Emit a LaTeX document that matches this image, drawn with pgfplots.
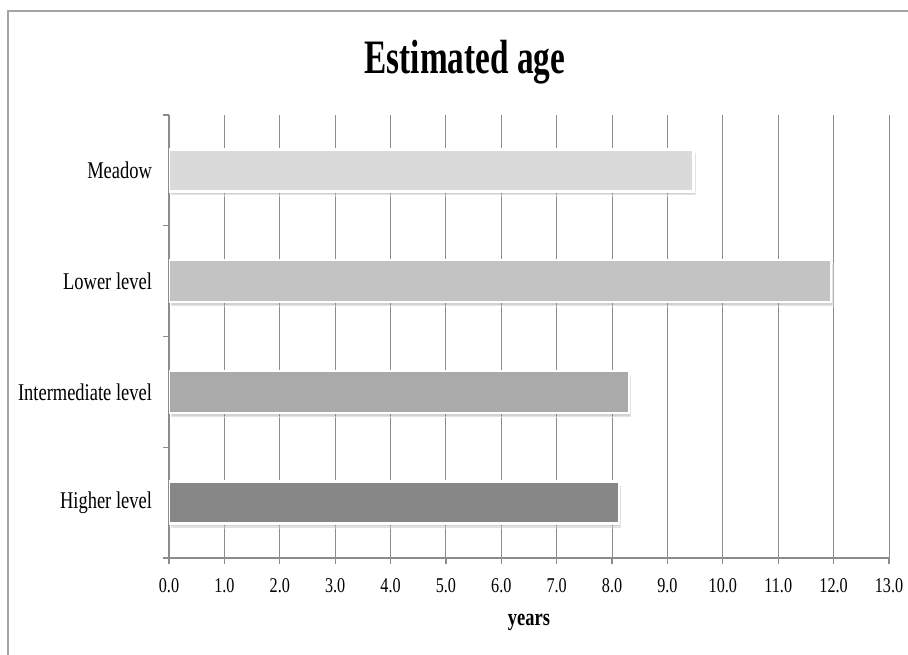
\documentclass[border=0pt]{standalone}
\usepackage{pgfplots}
\pgfplotsset{compat=1.18}
\usepackage{fontspec}
\setmainfont[FakeStretch=0.77]{Liberation Serif}
\usetikzlibrary{shadows}
\definecolor{gridgray}{RGB}{140,140,140}
\definecolor{framegray}{RGB}{165,165,165}
\definecolor{cMeadow}{RGB}{218,218,218}
\definecolor{cLower}{RGB}{195,195,195}
\definecolor{cInter}{RGB}{170,170,170}
\definecolor{cHigher}{RGB}{135,135,135}
\begin{document}
\begin{tikzpicture}
\path[use as bounding box] (0,0) rectangle (454pt,-327pt);
\draw[framegray, line width=1pt] (4pt,-335pt) -- (4pt,-5.5pt) -- (465pt,-5.5pt);
\node[font=\bfseries\fontsize{24}{28}\selectfont, anchor=base, inner sep=0pt, xscale=0.9] at (232.5pt,-36.5pt) {Estimated age};
\begin{axis}[
  at={(84.5pt,-279pt)}, anchor=south west,
  scale only axis, width=360pt, height=221.5pt,
  xbar, bar width=21pt,
  xmin=0, xmax=13, ymin=-0.5, ymax=3.5,
  xtick={0,1,...,13},
  xticklabel style={/pgf/number format/fixed, /pgf/number format/fixed zerofill, /pgf/number format/precision=1, font=\fontsize{10.5}{12}\selectfont, yshift=-3.5pt},
  /pgf/number format/assume math mode=true,
  ytick={0,1,2,3},
  yticklabels={Higher level, Intermediate level, Lower level, Meadow},
  yticklabel style={font=\fontsize{12}{14}\selectfont, xshift=-2pt},
  every major y tick/.style={draw=none},
  minor ytick={-0.5,0.5,1.5,2.5,3.5},
  every minor y tick/.style={gridgray, line width=0.6pt},
  every major x tick/.style={gridgray, line width=0.6pt},
  major tick length=3pt, minor tick length=3pt,
  tick align=outside,
  axis x line*=bottom, axis y line*=left,
  axis line style={-, gridgray, line width=0.6pt},
  xmajorgrids, grid style={gridgray, line width=0.5pt},
  xlabel={years},
  xlabel style={font=\bfseries\fontsize{12}{14}\selectfont, at={(axis description cs:0.5,0)}, anchor=base, yshift=-33.5pt},
]
\addplot[fill=cMeadow, draw=white, line width=1.2pt, bar shift=0pt, drop shadow={opacity=0.35, shadow xshift=1pt, shadow yshift=-2pt}] coordinates {(9.47,3)};
\addplot[fill=cLower, draw=white, line width=1.2pt, bar shift=0pt, drop shadow={opacity=0.35, shadow xshift=1pt, shadow yshift=-2pt}] coordinates {(11.95,2)};
\addplot[fill=cInter, draw=white, line width=1.2pt, bar shift=0pt, drop shadow={opacity=0.35, shadow xshift=1pt, shadow yshift=-2pt}] coordinates {(8.30,1)};
\addplot[fill=cHigher, draw=white, line width=1.2pt, bar shift=0pt, drop shadow={opacity=0.35, shadow xshift=1pt, shadow yshift=-2pt}] coordinates {(8.12,0)};
\end{axis}
\end{tikzpicture}
\end{document}
